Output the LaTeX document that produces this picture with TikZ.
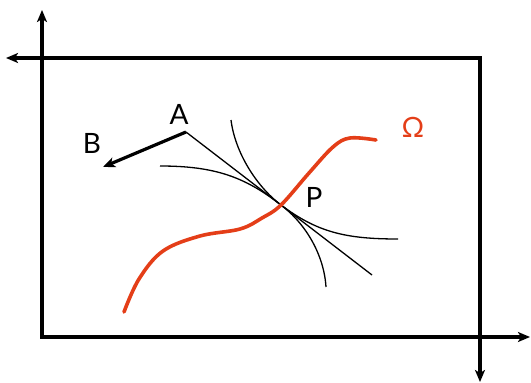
\documentclass[tikz,border=0pt]{standalone}
\usepackage{fontspec}
\setmainfont{Lato}
\usetikzlibrary{arrows.meta}
\definecolor{omegared}{RGB}{228,62,24}
\tikzset{
  frame/.style={line width=3.4pt, line cap=rect},
  axis/.style={line width=3.4pt, -{Stealth[length=12pt,width=10pt,inset=3pt]}},
  thinline/.style={line width=1.3pt},
  vec/.style={line width=3.2pt, -{Stealth[length=12pt,width=10pt,inset=3pt]}},
  lbl/.style={font=\fontsize{28}{28}\selectfont, inner sep=0pt},
  omegacurve/.style={line width=3.6pt, omegared, line cap=round, line join=round}
}
\begin{document}
\begin{tikzpicture}[x=1pt,y=-1pt]
\useasboundingbox (0,0) rectangle (531,383);
\coordinate (TL) at (42,58);
\coordinate (TR) at (480,58);
\coordinate (BL) at (42,337);
\coordinate (BR) at (480,337);
\coordinate (upEnd) at (42,10);
\coordinate (leftEnd) at (6,58);
\coordinate (rightEnd) at (530,337);
\coordinate (downEnd) at (480,382);
% frame and axes
\draw[frame] (TL) rectangle (BR);
\draw[axis] (BL) -- (upEnd);
\draw[axis] (TR) -- (leftEnd);
\draw[axis] (BL) -- (rightEnd);
\draw[axis] (TR) -- (downEnd);
% points
\coordinate (A) at (186,132);
\coordinate (B) at (103,167);
\coordinate (P) at (281,205);
\coordinate (L1) at (372,275);
\coordinate (C1s) at (160,166);
\coordinate (C1e) at (398,239);
\coordinate (C2s) at (231,120);
\coordinate (C2e) at (326,287);
% labels
\node[lbl] (Alabel) at (179,114) {A};
\node[lbl] (Blabel) at (92,143) {B};
\node[lbl] (Plabel) at (314,197) {P};
\node[lbl, text=omegared] (Olabel) at (413,127) {Ω};
% vector A -> B
\draw[vec] (A) -- (B);
% thin lines through P
\draw[thinline] (A) -- (L1);
\draw[thinline] (C1s) .. controls (215,166) and (245,177) .. (P)
                       .. controls (317,232) and (345,239) .. (C1e);
\draw[thinline] (C2s) .. controls (235,152) and (256,186) .. (P)
                       .. controls (306,224) and (324,255) .. (C2e);
% Omega curve
\draw[omegacurve] plot[smooth, tension=0.6] coordinates {
  (124,312) (139,279) (163,251) (200,236) (240,229) (262,218) (281,205)
  (309,173) (333,147) (350,138) (376,140)};
\end{tikzpicture}
\end{document}
